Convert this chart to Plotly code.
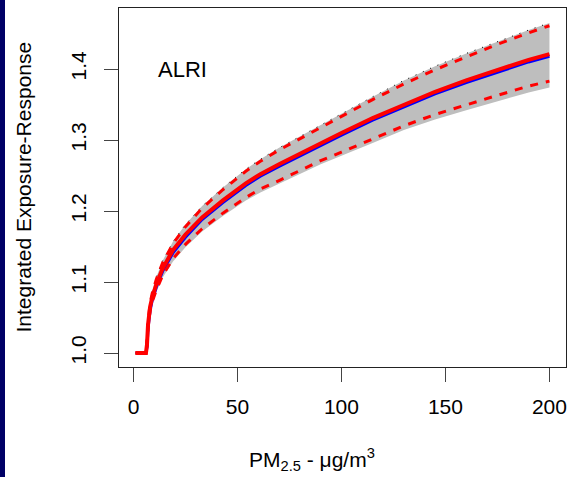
import plotly.graph_objects as go

# PM2.5 concentration (ug/m3)
x_pm = [1, 2, 4, 6, 6.5, 7, 8, 9, 11, 14, 19, 25, 33, 43, 54, 61, 70, 80, 90, 100,
        115, 130, 145, 160, 175, 190, 200]
# central estimate (red)
red_center = [1.0, 1.0, 1.0, 1.0, 1.012, 1.040, 1.065, 1.078, 1.097, 1.119, 1.145, 1.167,
              1.191, 1.215, 1.239, 1.252, 1.266, 1.281, 1.296, 1.310, 1.331, 1.350, 1.368,
              1.384, 1.399, 1.413, 1.421]
# alternative central estimate (blue)
blue_center = [1.0, 1.0, 1.0, 1.0, 1.008, 1.035, 1.060, 1.074, 1.093, 1.115, 1.141, 1.163,
               1.188, 1.212, 1.236, 1.249, 1.263, 1.278, 1.293, 1.307, 1.328, 1.347, 1.365,
               1.381, 1.396, 1.410, 1.418]
# dashed bounds (red)
red_upper = [1.0, 1.0, 1.0, 1.0, 1.014, 1.044, 1.070, 1.084, 1.104, 1.127, 1.154, 1.178,
             1.204, 1.230, 1.256, 1.270, 1.286, 1.302, 1.318, 1.334, 1.357, 1.379, 1.399,
             1.417, 1.435, 1.451, 1.461]
red_lower = [1.0, 1.0, 1.0, 1.0, 1.010, 1.036, 1.060, 1.072, 1.089, 1.109, 1.133, 1.153,
             1.175, 1.197, 1.219, 1.231, 1.243, 1.257, 1.271, 1.283, 1.302, 1.320, 1.336,
             1.350, 1.363, 1.376, 1.383]
# gray uncertainty band
gray_hi = [1.0, 1.0, 1.0, 1.0, 1.016, 1.047, 1.073, 1.087, 1.107, 1.130, 1.157, 1.181,
           1.207, 1.233, 1.259, 1.273, 1.289, 1.305, 1.322, 1.338, 1.361, 1.384, 1.404,
           1.422, 1.439, 1.455, 1.465]
gray_lo = [1.0, 1.0, 1.0, 1.0, 1.008, 1.033, 1.057, 1.069, 1.086, 1.106, 1.129, 1.149,
           1.171, 1.193, 1.215, 1.226, 1.238, 1.252, 1.266, 1.278, 1.296, 1.314, 1.329,
           1.342, 1.355, 1.367, 1.374]

x_ticks = [0, 50, 100, 150, 200]
y_ticks = [1.0, 1.1, 1.2, 1.3, 1.4]
y_tick_text = ["1.0", "1.1", "1.2", "1.3", "1.4"]

FONT = "Liberation Sans, Arial, sans-serif"

fig = go.Figure()
fig.add_trace(go.Scatter(
    x=x_pm + x_pm[::-1], y=gray_hi + gray_lo[::-1], fill="toself",
    fillcolor="#BEBEBE", line=dict(width=0), mode="lines", hoverinfo="skip"))
fig.add_trace(go.Scatter(
    x=x_pm, y=gray_hi, mode="lines",
    line=dict(color="black", width=1, dash="1px,7px")))
fig.add_trace(go.Scatter(
    x=x_pm, y=blue_center, mode="lines", line=dict(color="#0000FF", width=3)))
fig.add_trace(go.Scatter(
    x=x_pm, y=red_center, mode="lines", line=dict(color="#FF0000", width=4)))
fig.add_trace(go.Scatter(
    x=x_pm, y=red_upper, mode="lines",
    line=dict(color="#FF0000", width=3, dash="8px,8px")))
fig.add_trace(go.Scatter(
    x=x_pm, y=red_lower, mode="lines",
    line=dict(color="#FF0000", width=3, dash="8px,8px")))

L, R, T, B = 119, 6, 8, 110
W, H = 572, 477
pw = W - L - R

fig.update_layout(
    width=W, height=H,
    margin=dict(l=L, r=R, t=T, b=B, pad=0),
    paper_bgcolor="white", plot_bgcolor="white",
    showlegend=False,
    font=dict(family=FONT, size=21, color="black"),
    xaxis=dict(range=[-6.96, 207.96], tickvals=x_ticks, ticks="outside", ticklen=14,
               tickcolor="#444", tickwidth=1, showgrid=False, zeroline=False,
               showline=True, mirror=True, linecolor="#222", linewidth=1,
               tickfont=dict(size=21), ticklabelstandoff=7),
    yaxis=dict(range=[0.9803, 1.486], tickvals=y_ticks, ticktext=y_tick_text,
               ticks="outside", ticklen=14, tickcolor="#444", tickwidth=1,
               showgrid=False, zeroline=False, showline=True, mirror=True,
               linecolor="#222", linewidth=1, tickangle=-90,
               tickfont=dict(size=21), ticklabelstandoff=10),
    shapes=[dict(type="rect", xref="paper", yref="paper",
                 x0=-L / pw, x1=(5 - L) / pw, y0=-B / (H - T - B), y1=1 + T / (H - T - B),
                 fillcolor="#000066", line=dict(width=0), layer="above")],
    annotations=[
        dict(text="ALRI", xref="x", yref="y", x=23.5, y=1.4, showarrow=False,
             font=dict(size=22), xanchor="center", yanchor="middle"),
        dict(text="PM<sub>2.5</sub> - \u03bcg/m<sup>3</sup>", xref="paper", yref="paper",
             x=(312 - L) / pw, y=-(459 - (H - B)) / (H - T - B), showarrow=False,
             font=dict(size=21), xanchor="center", yanchor="middle"),
        dict(text="Integrated Exposure-Response", xref="paper", yref="paper",
             x=(23 - L) / pw, y=0.5, showarrow=False, textangle=-90,
             font=dict(size=21), xanchor="center", yanchor="middle"),
    ],
)

fig.write_html("out.html")
